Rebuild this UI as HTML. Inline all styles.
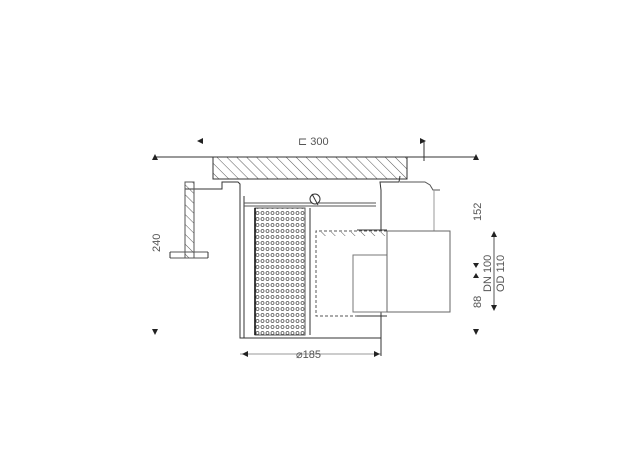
<!DOCTYPE html>
<html><head><style>
html,body{margin:0;padding:0;background:#fff;}
svg{display:block;}
text{font-family:"Liberation Sans",sans-serif;fill:#555;font-size:11px;}
</style></head><body>
<svg width="640" height="452" viewBox="0 0 640 452" xmlns="http://www.w3.org/2000/svg">
<defs>
<pattern id="h" width="7" height="7" patternUnits="userSpaceOnUse" patternTransform="rotate(-45)">
<line x1="0" y1="0" x2="0" y2="7" stroke="#444" stroke-width="0.9"/>
</pattern>
<pattern id="b" width="5" height="6" patternUnits="userSpaceOnUse">
<circle cx="2.5" cy="3" r="1.5" fill="none" stroke="#555" stroke-width="0.8"/>
</pattern>
</defs>
<g stroke="#333" stroke-width="1" fill="none">
<line x1="155" y1="157" x2="476" y2="157"/>
<line x1="424" y1="141" x2="424" y2="161"/>
<line x1="420" y1="141" x2="424" y2="141"/>
<rect x="213" y="157" width="194" height="22" fill="url(#h)"/>
<polyline points="185,189 222,189 222,182 238,182 240,184 240,190"/>
<polyline points="240,190 240,338 381,338 381,312"/>
<line x1="244" y1="196" x2="244" y2="338"/>
<polyline points="381,230 381,190 380,182 399,182 400,176"/>
<polyline points="400,182 425,182 430,185 433,190 440,190" stroke="#555"/>
<line x1="434" y1="190" x2="434" y2="231" stroke="#999"/>
<line x1="244" y1="203" x2="376" y2="203" stroke="#555"/>
<line x1="244" y1="206" x2="376" y2="206" stroke="#555"/>
<circle cx="315" cy="199" r="5" fill="#fff"/>
<line x1="312" y1="194" x2="318" y2="205"/>
<rect x="255" y="208" width="50" height="127" fill="url(#b)" stroke="#555"/>
<line x1="255" y1="208" x2="255" y2="335" stroke="#000" stroke-width="1.5"/>
<line x1="310" y1="208" x2="310" y2="335"/>
<polyline points="387,231 316,231 316,316 387,316" stroke="#555" stroke-dasharray="3,2"/>
<rect x="318" y="232" width="68" height="4" fill="url(#h)" stroke="none"/>
<polyline points="387,255 353,255 353,312 387,312" stroke="#777"/>
<rect x="387" y="231" width="63" height="81" stroke="#666"/>
<line x1="357" y1="230" x2="387" y2="230"/>
<line x1="357" y1="316" x2="387" y2="316"/>
<rect x="185" y="182" width="9" height="76" fill="url(#h)" stroke="#555"/>
<line x1="170" y1="252" x2="208" y2="252" stroke="#555"/>
<line x1="170" y1="258" x2="208" y2="258" stroke="#555"/>
<line x1="170" y1="252" x2="170" y2="258"/>
<line x1="208" y1="252" x2="208" y2="258"/>
<line x1="240" y1="354" x2="381" y2="354" stroke="#999"/>
<line x1="381" y1="338" x2="381" y2="356"/>
<line x1="494" y1="232" x2="494" y2="310" stroke="#555"/>
</g>
<g fill="#222">
<polygon points="155,154 152,160 158,160"/>
<polygon points="476,154 473,160 479,160"/>
<polygon points="155,335 152,329 158,329"/>
<polygon points="476,335 473,329 479,329"/>
<polygon points="197,141 203,138 203,144"/>
<polygon points="426,141 420,138 420,144"/>
<polygon points="242,354 248,351 248,357"/>
<polygon points="380,354 374,351 374,357"/>
<polygon points="494,231 491,237 497,237"/>
<polygon points="494,311 491,305 497,305"/>
<polygon points="476,268 473,263 479,263"/>
<polygon points="476,273 473,278 479,278"/>
</g>
<text x="298" y="145">⊏ 300</text>
<text x="296" y="358">⌀185</text>
<text transform="translate(160,252) rotate(-90)">240</text>
<text transform="translate(481,221) rotate(-90)">152</text>
<text transform="translate(481,308) rotate(-90)">88</text>
<text transform="translate(491,292) rotate(-90)">DN 100</text>
<text transform="translate(504,292) rotate(-90)">OD 110</text>
</svg>
</body></html>
